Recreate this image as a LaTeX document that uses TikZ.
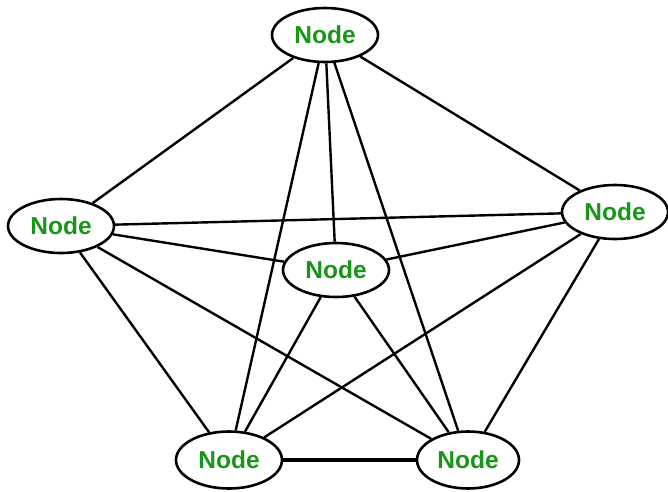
\documentclass[tikz,border=0pt]{standalone}
\usepackage{fontspec}
\setmainfont{Liberation Sans}
\usetikzlibrary{shapes.geometric}
\definecolor{nodegreen}{RGB}{24,150,24}
\begin{document}
\begin{tikzpicture}[x=1pt,y=-1pt,
  vert/.style={ellipse,draw=black,line width=2.6pt,fill=white,inner sep=0pt,
    minimum width=106pt,minimum height=54pt,
    font=\fontsize{24.5}{26}\selectfont\bfseries,text=nodegreen},
  edge/.style={line width=2.4pt,black}]
\useasboundingbox (0,0) rectangle (668,491);
\node[vert] (t) at (325,35) {Node};
\node[vert] (l) at (61,226) {Node};
\node[vert] (c) at (336,270) {Node};
\node[vert] (r) at (615,212) {Node};
\node[vert,minimum height=57pt] (bl) at (229,460) {Node};
\node[vert,minimum width=102pt,minimum height=57pt] (br) at (468,460) {Node};
\draw[edge] (t) -- (l);
\draw[edge] (t) -- (r);
\draw[edge] (t) -- (c);
\draw[edge] (t) -- (bl);
\draw[edge] (t) -- (br);
\draw[edge] (l) -- (r);
\draw[edge] (l) -- (c);
\draw[edge] (l) -- (bl);
\draw[edge] (l) -- (br);
\draw[edge] (r) -- (c);
\draw[edge] (r) -- (bl);
\draw[edge] (r) -- (br);
\draw[edge] (c) -- (bl);
\draw[edge] (c) -- (br);
\draw[edge,line width=3.2pt] (bl) -- (br);
\end{tikzpicture}
\end{document}
